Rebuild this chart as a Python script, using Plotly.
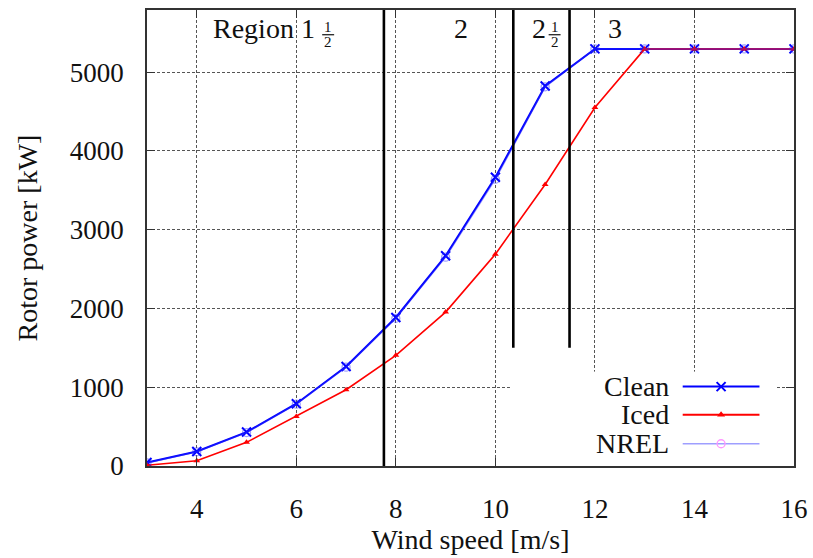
import plotly.graph_objects as go

# Wind speed [m/s]
wind_speed = [3, 4, 5, 6, 7, 8, 9, 10, 11, 12, 13, 14, 15, 16]
# Rotor power [kW]
power_clean = [44, 185, 431, 791, 1264, 1886, 2669, 3667, 4826, 5296, 5296, 5296, 5296, 5296]
power_iced = [10, 67, 300, 629, 968, 1405, 1954, 2690, 3575, 4551, 5296, 5296, 5296, 5296]
power_nrel = [40, 180, 425, 785, 1255, 1875, 2652, 3642, 4815, 5296, 5296, 5296, 5296, 5296]

# Control-region boundaries [m/s] and the power at which each boundary line stops
region_bounds = [7.76, 10.36, 11.49]
region_line_floor = [0, 1500, 1500]

y_ticks = [0, 1000, 2000, 3000, 4000, 5000]
x_ticks = [4, 6, 8, 10, 12, 14, 16]
y_max = 5790

FONT = "Liberation Serif, Times New Roman, DejaVu Serif, serif"
TXT = "#111111"
BLUE = "#0000ff"
RED = "#ff0000"
NREL_COL = "rgba(40,40,255,0.45)"

fig = go.Figure()

fig.add_trace(go.Scatter(
    x=wind_speed, y=power_clean, mode="lines+markers", name="Clean",
    line=dict(color=BLUE, width=2),
    marker=dict(symbol="x-thin", size=9, line=dict(color=BLUE, width=2)),
    showlegend=False))
fig.add_trace(go.Scatter(
    x=wind_speed, y=power_iced, mode="lines+markers", name="Iced",
    line=dict(color=RED, width=1.6),
    marker=dict(symbol="triangle-up", size=6, color=RED),
    showlegend=False))
fig.add_trace(go.Scatter(
    x=wind_speed, y=power_nrel, mode="lines+markers", name="NREL",
    line=dict(color=NREL_COL, width=1.6),
    marker=dict(symbol="circle-open", size=8, line=dict(color=NREL_COL, width=1.3)),
    showlegend=False))

# Vertical region boundaries
for xb, yb in zip(region_bounds, region_line_floor):
    fig.add_shape(type="line", xref="x", yref="y", x0=xb, x1=xb, y0=yb, y1=y_max,
                  line=dict(color="black", width=2.6), layer="above")

# White key box hides the grid behind the legend
fig.add_shape(type="rect", xref="paper", yref="paper", x0=0.561, x1=0.973, y0=0.0, y1=0.207,
              fillcolor="white", line=dict(width=0), layer="between")

# Custom key: label on the left, sample on the right
key_names = ["Clean", "Iced", "NREL"]
key_y = [0.841, 0.544, 0.236]
key_styles = [
    (dict(color=BLUE, width=2), dict(symbol="x-thin", size=9, line=dict(color=BLUE, width=2))),
    (dict(color=RED, width=2), dict(symbol="triangle-up", size=7, color=RED)),
    (dict(color="rgba(40,40,255,0.45)", width=1.5),
     dict(symbol="circle-open", size=8, line=dict(color="rgba(40,40,255,0.6)", width=1.3))),
]
for name, ky, (ln, mk) in zip(key_names, key_y, key_styles):
    fig.add_trace(go.Scatter(x=[0.648, 0.936], y=[ky, ky], mode="lines", line=ln,
                             xaxis="x2", yaxis="y2", showlegend=False, hoverinfo="skip"))
    fig.add_trace(go.Scatter(x=[0.792], y=[ky], mode="markers", marker=mk,
                             xaxis="x2", yaxis="y2", showlegend=False, hoverinfo="skip"))
    fig.add_annotation(xref="x2", yref="y2", x=0.599, y=ky, text=name, showarrow=False,
                       xanchor="right", yanchor="middle", borderpad=0,
                       font=dict(family=FONT, size=28, color=TXT))

# Region labels
big = dict(family=FONT, size=28, color=TXT)
label_y = 5560
fig.add_annotation(x=6.40, y=label_y, text="Region 1", xanchor="right", yanchor="middle",
                   showarrow=False, font=big, borderpad=0)
fig.add_annotation(x=9.30, y=label_y, text="2", xanchor="center", yanchor="middle",
                   showarrow=False, font=big, borderpad=0)
fig.add_annotation(x=10.88, y=label_y, text="2", xanchor="center", yanchor="middle",
                   showarrow=False, font=big, borderpad=0)
fig.add_annotation(x=12.41, y=label_y, text="3", xanchor="center", yanchor="middle",
                   showarrow=False, font=big, borderpad=0)

# Stacked one-half fractions: a small base size keeps the two lines close together
half = "<span style='font-size:15px'>1</span><br><span style='font-size:15px'>2</span>"
bar_y = 5476
for xc in (6.64, 11.19):
    fig.add_annotation(x=xc, y=bar_y, text=half, xanchor="center", yanchor="middle",
                       align="center", showarrow=False, borderpad=0,
                       font=dict(family=FONT, size=11.5, color=TXT))
    fig.add_shape(type="line", xref="x", yref="y", x0=xc - 0.12, x1=xc + 0.12,
                  y0=bar_y, y1=bar_y, line=dict(color=TXT, width=1.2))

axis_common = dict(
    showline=True, linecolor="#333333", linewidth=1.5, mirror="ticks",
    ticks="inside", ticklen=8, tickcolor="#333333", tickwidth=1,
    showgrid=True, gridcolor="#555555", gridwidth=1, griddash="3px,2px",
    zeroline=False, automargin=False, tickfont=dict(family=FONT, size=27, color=TXT),
)

fig.update_layout(
    width=813, height=558,
    margin=dict(l=147, r=19, t=10, b=92, autoexpand=False),
    paper_bgcolor="white", plot_bgcolor="white",
    font=dict(family=FONT, color=TXT),
    xaxis=dict(range=[3, 16], tickvals=x_ticks, ticklabelstandoff=18,
               title=dict(text="Wind speed [m/s]", font=dict(family=FONT, size=28, color=TXT),
                          standoff=6),
               **axis_common),
    yaxis=dict(range=[0, y_max], tickvals=y_ticks, ticklabelstandoff=16,
               title=dict(text="Rotor power [kW]", font=dict(family=FONT, size=28, color=TXT),
                          standoff=24),
               **axis_common),
    xaxis2=dict(domain=[0.561, 0.973], range=[0, 1], visible=False, anchor="y2", fixedrange=True),
    yaxis2=dict(domain=[0.0, 0.207], range=[0, 1], visible=False, anchor="x2", fixedrange=True),
    showlegend=False,
)

fig.write_html("out.html")
